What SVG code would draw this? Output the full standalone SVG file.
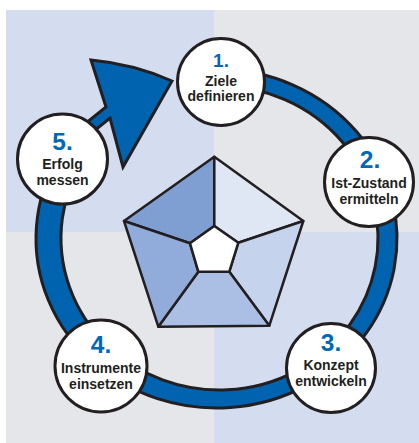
<svg xmlns="http://www.w3.org/2000/svg" width="419" height="443" viewBox="0 0 419 443">
  <style>
    .node circle { fill: #ffffff; stroke: #231f20; stroke-width: 3; }
    .num { font-family: "Liberation Sans", Arial, sans-serif; font-weight: bold; fill: #0068b4; text-anchor: middle; }
    .lbl { font-family: "Liberation Sans", Arial, sans-serif; font-weight: bold; font-size: 14px; fill: #231f20; text-anchor: middle; }
    .band { fill: #0063b0; stroke: #231f20; stroke-width: 3; stroke-linejoin: miter; }
    .seg { stroke: #231f20; stroke-width: 2.5; stroke-linejoin: round; }
  </style>
  <rect x="0" y="0" width="419" height="443" fill="#ffffff"/>
  <g id="background">
    <rect x="6" y="10" width="208" height="222" fill="#d3ddef"/>
    <rect x="214" y="10" width="205" height="222" fill="#e5e6e9"/>
    <rect x="6" y="232" width="208" height="211" fill="#e5e6e9"/>
    <rect x="214" y="232" width="205" height="211" fill="#d3ddef"/>
  </g>
  <g id="connectors">
    <path class="band" d="M221,69.05 A180.5 169.5 0 1 1 57.09,159 L84.09,159 A158.5 152 0 1 0 221,86 Z"/>
    <path class="band" d="M78.7,129 L106,107 L91,60 Q134,64 172,81 L123,167 L110,118 L86.6,136.9 Z"/>
  </g>
  <g id="pentagon">
    <polygon class="seg" fill="#7f9fd2" points="214.3,156.7 214.3,226 190,243.3 124,221"/>
    <polygon class="seg" fill="#dfe6f4" points="214.3,156.7 303.3,221 238.3,242.7 214.3,226"/>
    <polygon class="seg" fill="#c5d3ec" points="303.3,221 269.3,325.7 229.3,271.7 238.3,242.7"/>
    <polygon class="seg" fill="#aabfe3" points="269.3,325.7 158.3,326.7 198.3,271.7 229.3,271.7"/>
    <polygon class="seg" fill="#91acdb" points="158.3,326.7 124,221 190,243.3 198.3,271.7"/>
    <polygon class="seg" fill="#ffffff" points="214.3,226 238.3,242.7 229.3,271.7 198.3,271.7 190,243.3"/>
  </g>
  <g id="node1" class="node">
    <circle cx="221" cy="82" r="43.5"/>
    <text class="num" x="221" y="66.7" font-size="19">1.</text>
    <text class="lbl" x="221" y="86">Ziele</text>
    <text class="lbl" x="221" y="101">definieren</text>
  </g>
  <g id="node2" class="node">
    <circle cx="369" cy="182" r="44.5"/>
    <text class="num" x="370" y="168" font-size="24.5">2.</text>
    <text class="lbl" x="369" y="188.3">Ist-Zustand</text>
    <text class="lbl" x="369" y="204">ermitteln</text>
  </g>
  <g id="node3" class="node">
    <circle cx="331" cy="368" r="44.5"/>
    <text class="num" x="331" y="350.7" font-size="24.5">3.</text>
    <text class="lbl" x="331" y="370">Konzept</text>
    <text class="lbl" x="331" y="385.7">entwickeln</text>
  </g>
  <g id="node4" class="node">
    <circle cx="101" cy="366" r="46"/>
    <text class="num" x="101" y="352.7" font-size="24.5">4.</text>
    <text class="lbl" x="101" y="372.7">Instrumente</text>
    <text class="lbl" x="101" y="389">einsetzen</text>
  </g>
  <g id="node5" class="node">
    <circle cx="62.5" cy="159" r="45"/>
    <text class="num" x="62.5" y="150" font-size="24.5">5.</text>
    <text class="lbl" x="62.5" y="169.3">Erfolg</text>
    <text class="lbl" x="62.5" y="185">messen</text>
  </g>
</svg>
